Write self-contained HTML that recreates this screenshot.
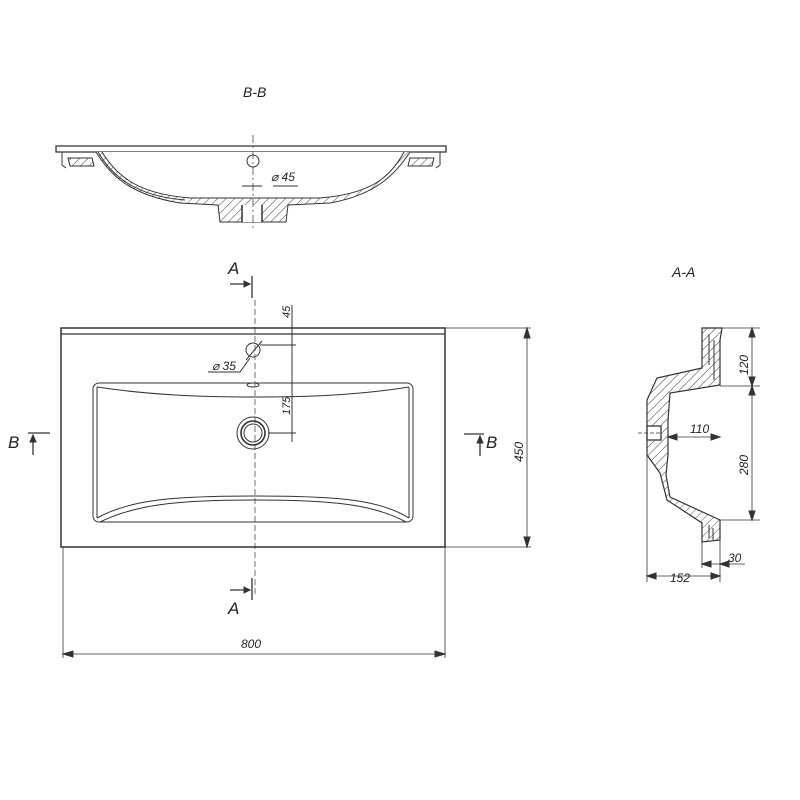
<!DOCTYPE html>
<html><head><meta charset="utf-8"><style>html,body{margin:0;padding:0;background:#fff}svg{display:block}text{font-family:"Liberation Sans",sans-serif;font-style:italic;fill:#222}</style></head>
<body>
<svg width="800" height="800" viewBox="0 0 800 800" xmlns="http://www.w3.org/2000/svg">
<defs>
<pattern id="h" width="6" height="6" patternUnits="userSpaceOnUse" patternTransform="rotate(45)"><rect width="6" height="6" fill="#fff"/><line x1="0" y1="0" x2="0" y2="6" stroke="#333" stroke-width="0.9"/></pattern>
</defs>
<g stroke="#333" fill="none" stroke-width="1">
<!-- B-B section -->
<text x="243" y="97" font-size="14" stroke="none">B-B</text>
<path d="M56 146 L446 146 L446 152 L56 152 Z" stroke-width="1.3"/>
<path d="M62 152 L62 165 L66 168 M440 152 L440 165 L436 168"/>
<path d="M68 158 L92 158 L94 166 L70 166 Z M410 158 L434 158 L432 166 L408 166 Z" fill="url(#h)"/>
<path d="M96 152 C110 175 130 195 180 203 L218 205 L220 222 L286 222 L288 205 L330 203 C375 195 395 175 410 152" fill="url(#h)"/>
<path d="M102 152 C118 178 140 194 190 198 L320 198 C370 194 390 178 404 152" fill="#fff"/>
<path d="M98 152 C112 176 135 196 185 200"/>
<path d="M242 205 L242 222 M262 205 L262 222" stroke-width="1.5"/>
<rect x="243" y="205" width="18" height="17" fill="#fff" stroke="none"/>
<circle cx="253" cy="161" r="6"/>
<line x1="253" y1="135" x2="253" y2="230" stroke-dasharray="8,3,2,3" stroke-width="0.7"/>
<path d="M242 186 L262 186 M273 186 L298 186"/>
<text x="271" y="181" font-size="12" stroke="none">⌀ 45</text>

<!-- Main view -->
<rect x="61" y="328" width="384" height="219" stroke-width="1.5"/>
<line x1="61" y1="334" x2="445" y2="334" stroke-width="1.3"/>
<rect x="93" y="383" width="320" height="139" rx="6"/>
<path d="M97 387 C150 395 200 397 255 397 C310 397 360 395 409 387"/>
<path d="M97 518 C130 500 170 496 255 496 C340 496 380 500 409 518"/>
<path d="M100 522 C135 505 175 500 255 500 C335 500 375 505 406 522"/>
<line x1="97" y1="387" x2="97" y2="518"/>
<line x1="409" y1="387" x2="409" y2="518"/>
<ellipse cx="253" cy="385" rx="6" ry="2"/>
<circle cx="253" cy="433" r="16"/><circle cx="253" cy="433" r="12" stroke-width="1.6"/><circle cx="253" cy="433" r="9"/>
<circle cx="253" cy="350" r="7"/>
<line x1="255" y1="300" x2="255" y2="595" stroke-dasharray="6,3" stroke-width="0.7"/>
<!-- dims 45/175 -->
<line x1="292" y1="305" x2="292" y2="442"/>
<path d="M260 345 L296 345 M268 433 L296 433"/>
<text transform="translate(290,318) rotate(-90)" font-size="11" stroke="none">45</text>
<text transform="translate(290,415) rotate(-90)" font-size="11" stroke="none">175</text>
<path d="M208 372 L240 372 L250 358 M246 360 L262 341"/>
<text x="212" y="370" font-size="12" stroke="none">⌀ 35</text>
<!-- A markers -->
<text x="228" y="274" font-size="17" stroke="none">A</text>
<path d="M252 276 L252 298 M230 284 L250 284" stroke-width="1.3"/><path d="M250 284 L244 281 L244 287 Z" fill="#333"/>
<text x="228" y="614" font-size="17" stroke="none">A</text>
<path d="M252 578 L252 600 M230 590 L250 590" stroke-width="1.3"/><path d="M250 590 L244 587 L244 593 Z" fill="#333"/>
<text x="8" y="448" font-size="17" stroke="none">B</text>
<path d="M28 433 L50 433 M33 435 L33 455" stroke-width="1.3"/><path d="M33 435 L30 442 L36 442 Z" fill="#333"/>
<text x="486" y="448" font-size="17" stroke="none">B</text>
<path d="M464 434 L484 434 M480 436 L480 456" stroke-width="1.3"/><path d="M480 436 L477 443 L483 443 Z" fill="#333"/>
<!-- 450 -->
<path d="M445 328 L531 328 M445 547 L531 547 M527 328 L527 547" stroke-width="0.8"/>
<path d="M527 328 L524 338 L530 338 Z M527 547 L524 537 L530 537 Z" fill="#333"/>
<text transform="translate(523,462) rotate(-90)" font-size="12" stroke="none">450</text>
<!-- 800 -->
<path d="M63 547 L63 658 M445 547 L445 658 M63 654 L445 654" stroke-width="0.8"/>
<path d="M63 654 L73 651 L73 657 Z M445 654 L435 651 L435 657 Z" fill="#333"/>
<text x="241" y="648" font-size="12" stroke="none">800</text>

<!-- A-A -->
<text x="672" y="277" font-size="14" stroke="none">A-A</text>
<path d="M702 328 L722 328 L720 340 L720 385 L670 393 L668 420 L668 455 L666 475 L670 497 L720 520 L720 540 L702 542 L702 523 L667 500 L660 473 L647 455 L647 400 L657 378 L702 368 Z" fill="url(#h)" stroke-width="1.2"/>
<path d="M709 334 L709 365 M714 340 L714 380 M709 525 L709 538 M713 528 L713 540"/>
<rect x="647" y="426" width="14" height="14" fill="#fff" stroke-width="1.3"/>
<line x1="638" y1="433" x2="662" y2="433" stroke-dasharray="4,2" stroke-width="0.7"/>
<path d="M720 328 L760 328 M720 386 L760 386 M720 520 L760 520 M752 328 L752 520" stroke-width="0.8"/>
<path d="M752 328 L749 337 L755 337 Z M752 386 L749 377 L755 377 Z M752 386 L749 395 L755 395 Z M752 520 L749 511 L755 511 Z" fill="#333"/>
<text transform="translate(748,375) rotate(-90)" font-size="12" stroke="none">120</text>
<text transform="translate(748,475) rotate(-90)" font-size="12" stroke="none">280</text>
<path d="M668 437 L720 437" stroke-width="0.8"/>
<path d="M668 437 L677 434 L677 440 Z M720 437 L711 434 L711 440 Z" fill="#333"/>
<text x="690" y="433" font-size="12" stroke="none">110</text>
<path d="M647 455 L647 582 M720 540 L720 582 M702 542 L702 568 M647 576 L720 576 M702 564 L745 564" stroke-width="0.8"/>
<path d="M647 576 L656 573 L656 579 Z M720 576 L711 573 L711 579 Z M702 564 L711 561 L711 567 Z M720 564 L729 561 L729 567 Z" fill="#333"/>
<text x="670" y="582" font-size="12" stroke="none">152</text>
<text x="728" y="562" font-size="12" stroke="none">30</text>
</g>
</svg>
</body></html>
